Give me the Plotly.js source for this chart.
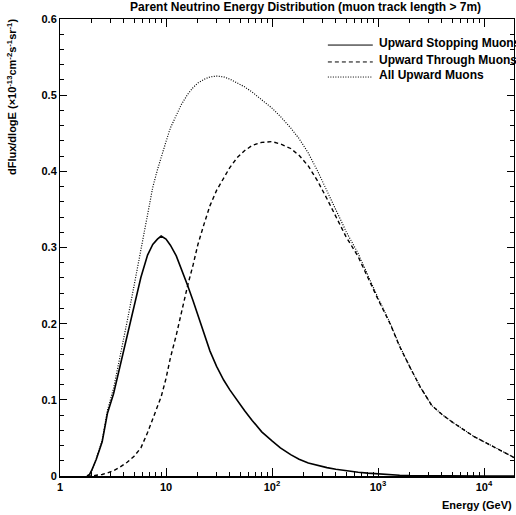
<!DOCTYPE html>
<html>
<head>
<meta charset="utf-8">
<script src="https://cdn.plot.ly/plotly-3.0.1.min.js"></script>
<style>html,body{margin:0;padding:0;background:#fff;}#chart{width:516px;height:515px;}</style>
</head>
<body>
<div id="chart"></div>
<script>
// Neutrino energy grid (GeV)
var energy = [1.8, 1.9, 2.0, 2.2, 2.5, 2.8, 3.2, 3.7, 4.3, 5.0, 5.8, 6.7, 7.5, 8.3, 9.0, 10, 11, 12.5, 14, 16, 18, 20, 23, 26, 30, 35, 40, 47, 55, 65, 80, 100, 120, 150, 180, 220, 270, 330, 400, 500, 650, 800, 1000, 1300, 1600, 2000, 2500, 3200, 4000, 5000, 6500, 8000, 10000, 13000, 16000, 20000];

var stopping = [0, 0.002, 0.008, 0.022, 0.045, 0.082, 0.108, 0.145, 0.185, 0.224, 0.261, 0.290, 0.304, 0.311, 0.315, 0.311, 0.303, 0.289, 0.272, 0.250, 0.230, 0.211, 0.185, 0.164, 0.144, 0.126, 0.113, 0.099, 0.086, 0.073, 0.058, 0.046, 0.037, 0.028, 0.022, 0.017, 0.0135, 0.011, 0.0088, 0.0068, 0.005, 0.0038, 0.0026, 0.0016, 0.001, 0.0006, 0.0004, 0.0002, 0.0001, 0, 0, 0, 0, 0, 0, 0];

var through = [0, 0, 0, 0.001, 0.002, 0.004, 0.007, 0.012, 0.018, 0.026, 0.037, 0.057, 0.075, 0.091, 0.104, 0.128, 0.155, 0.185, 0.215, 0.250, 0.277, 0.304, 0.332, 0.355, 0.375, 0.392, 0.405, 0.418, 0.427, 0.434, 0.438, 0.439, 0.436, 0.430, 0.421, 0.407, 0.387, 0.364, 0.340, 0.314, 0.288, 0.260, 0.232, 0.200, 0.170, 0.143, 0.117, 0.093, 0.081, 0.071, 0.060, 0.052, 0.045, 0.037, 0.030, 0.023];

var allUpward = [0, 0.002, 0.008, 0.023, 0.047, 0.086, 0.115, 0.157, 0.203, 0.250, 0.298, 0.347, 0.379, 0.402, 0.419, 0.439, 0.457, 0.474, 0.488, 0.501, 0.510, 0.516, 0.521, 0.524, 0.525, 0.524, 0.521, 0.516, 0.511, 0.504, 0.494, 0.483, 0.472, 0.457, 0.443, 0.424, 0.400, 0.375, 0.350, 0.321, 0.292, 0.264, 0.234, 0.201, 0.171, 0.143, 0.117, 0.093, 0.081, 0.071, 0.060, 0.052, 0.045, 0.037, 0.030, 0.023];

var seriesNames = ['Upward Stopping Muons', 'Upward Through Muons', 'All Upward Muons'];
var xTickVals = [1, 10, 100, 1000, 10000];
var xTickText = ['1', '10', '10<sup>2</sup>', '10<sup>3</sup>', '10<sup>4</sup>'];
var yTickVals = [0, 0.1, 0.2, 0.3, 0.4, 0.5, 0.6];
var yTickText = ['0', '0.1', '0.2', '0.3', '0.4', '0.5', '0.6'];

var minorX = [];
for (var d = 1; d <= 10000; d *= 10) {
  for (var k = 2; k <= 9; k++) minorX.push(d * k);
}

var F = 'Liberation Sans, Arial, sans-serif';
var styles = [
  {color: '#000', width: 1.6, dash: 'solid'},
  {color: '#000', width: 1.4, dash: '4px,3px'},
  {color: '#000', width: 1.2, dash: '1px,1.5px'}
];
var seriesY = [stopping, through, allUpward];
var traces = seriesY.map(function (ys, i) {
  return {x: energy, y: ys, name: seriesNames[i], mode: 'lines', line: styles[i], showlegend: false};
});
// carrier trace for the minor-tick overlay axes
traces.push({x: [], y: [], xaxis: 'x2', yaxis: 'y2', mode: 'lines', showlegend: false, hoverinfo: 'skip'});

// manual legend (paper coordinates)
var legX0 = 0.590, legX1 = 0.689, legTextX = 0.698;
var legY = [0.943, 0.906, 0.873];
var shapes = [], annotations = [];
seriesNames.forEach(function (nm, i) {
  shapes.push({type: 'line', xref: 'paper', yref: 'paper', x0: legX0, x1: legX1, y0: legY[i], y1: legY[i],
               line: {color: '#000', width: 1, dash: styles[i].dash}});
  annotations.push({text: '<b>' + nm + '</b>', xref: 'paper', yref: 'paper', x: legTextX, y: legY[i] + 0.004,
                    xanchor: 'left', yanchor: 'middle', showarrow: false, font: {family: F, size: 12, color: '#000'}});
});
annotations.push({text: '<b>Energy (GeV)</b>', xref: 'paper', yref: 'paper', x: 1.0, y: -0.046, xanchor: 'right', yanchor: 'top', showarrow: false, font: {family: F, size: 11, color: '#000'}});
annotations.push({text: '<b>dFlux/dlogE (×10<sup>-13</sup>cm<sup>-2</sup>s<sup>-1</sup>sr<sup>-1</sup>)</b>', xref: 'paper', yref: 'paper', x: -0.106, y: 0.829, xanchor: 'center', yanchor: 'middle', textangle: -90, showarrow: false, font: {family: F, size: 11, color: '#000'}});

var layout = {
  width: 516, height: 515,
  margin: {l: 60, r: 2, t: 19, b: 39},
  paper_bgcolor: '#fff', plot_bgcolor: '#fff',
  font: {family: F, color: '#000', size: 11},
  showlegend: false,
  title: {text: '<b>Parent Neutrino Energy Distribution (muon track length > 7m)</b>', x: 0.541, xanchor: 'center', xref: 'paper', y: 0.995, yanchor: 'top', font: {family: F, size: 12, color: '#000'}},
  xaxis: {
    type: 'log', range: [0, 4.283], showgrid: false, zeroline: false,
    showline: true, linecolor: '#000', linewidth: 1.5, mirror: 'ticks',
    ticks: 'inside', ticklen: 8, tickwidth: 1, tickcolor: '#000',
    tickmode: 'array', tickvals: xTickVals, ticktext: xTickText,
    tickfont: {family: F, size: 11, weight: 'bold'}
  },
  yaxis: {
    range: [0, 0.6], showgrid: false, zeroline: false,
    showline: true, linecolor: '#000', linewidth: 1, mirror: 'ticks',
    ticks: 'inside', ticklen: 7, tickwidth: 1, tickcolor: '#000',
    tickmode: 'array', tickvals: yTickVals, ticktext: yTickText,
    tickfont: {family: F, size: 11, weight: 'bold'}
  },
  xaxis2: {
    type: 'log', range: [0, 4.283], overlaying: 'x', anchor: 'y2', side: 'bottom',
    showgrid: false, zeroline: false, showline: false, mirror: 'ticks',
    ticks: 'inside', ticklen: 4, tickwidth: 1, tickcolor: '#000',
    tickmode: 'array', tickvals: minorX, showticklabels: false
  },
  yaxis2: {
    range: [0, 0.6], overlaying: 'y', anchor: 'x2', side: 'left',
    showgrid: false, zeroline: false, showline: false, mirror: 'ticks',
    ticks: 'inside', ticklen: 4, tickwidth: 1, tickcolor: '#000',
    tickmode: 'linear', tick0: 0, dtick: 0.02, showticklabels: false
  },
  shapes: shapes,
  annotations: annotations
};

Plotly.newPlot('chart', traces, layout, {staticPlot: true, displayModeBar: false});
</script>
</body>
</html>
